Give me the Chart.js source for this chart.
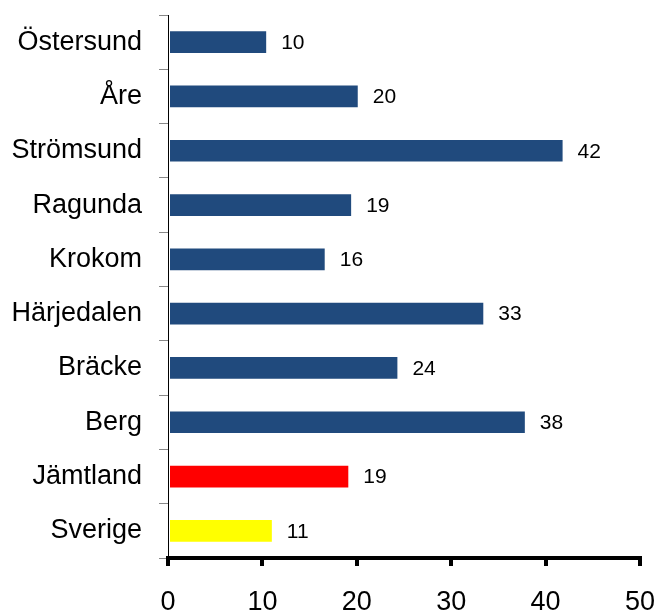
<!DOCTYPE html>
<html>
<head>
<meta charset="utf-8">
<script src="https://cdn.jsdelivr.net/npm/chart.js@4/dist/chart.umd.min.js"></script>
<style>
  html, body { margin: 0; padding: 0; background: #fff; }
  #wrap { width: 659px; height: 610px; }
</style>
</head>
<body>
<div id="wrap"><canvas id="chart" width="659" height="610"></canvas></div>
<script>
// kommuner och värden
const kommuner = ['Östersund', 'Åre', 'Strömsund', 'Ragunda', 'Krokom', 'Härjedalen', 'Bräcke', 'Berg', 'Jämtland', 'Sverige'];
const varden = [10.4, 20.1, 41.8, 19.4, 16.6, 33.4, 24.3, 37.8, 19.1, 11.0];
const etiketter = ['10', '20', '42', '19', '16', '33', '24', '38', '19', '11'];
const farger = ['#204A7D', '#204A7D', '#204A7D', '#204A7D', '#204A7D', '#204A7D', '#204A7D', '#204A7D', '#FF0000', '#FFFF00'];

// skriver värdet till höger om varje stapel
const vardeEtiketter = {
    id: 'vardeEtiketter',
    afterDatasetsDraw(chart) {
        const ctx = chart.ctx;
        const meta = chart.getDatasetMeta(0);
        ctx.save();
        ctx.font = '21px "Liberation Sans", Arial, sans-serif';
        ctx.fillStyle = '#000';
        ctx.textAlign = 'left';
        ctx.textBaseline = 'middle';
        meta.data.forEach((bar, i) => {
            ctx.fillText(etiketter[i], bar.x + 15, bar.y + 1);
        });
        ctx.restore();
    }
};

new Chart(document.getElementById('chart').getContext('2d'), {
    type: 'bar',
    data: {
        labels: kommuner,
        datasets: [{
            data: varden,
            backgroundColor: farger,
            borderWidth: 0,
            barPercentage: 0.4,
            categoryPercentage: 1.0
        }]
    },
    options: {
        indexAxis: 'y',
        responsive: false,
        animation: false,
        layout: { padding: { top: 15, right: 19, left: 0, bottom: 0 } },
        plugins: {
            legend: { display: false },
            tooltip: { enabled: false }
        },
        scales: {
            x: {
                min: 0,
                max: 50,
                afterFit(scale) {
                    scale.height = 52;
                    scale.paddingLeft = 0;
                    scale.paddingRight = 0;
                },
                border: { display: true, color: '#000', width: 4 },
                grid: {
                    drawOnChartArea: false,
                    drawTicks: true,
                    tickLength: 8,
                    color: '#000',
                    lineWidth: 4
                },
                ticks: {
                    stepSize: 10,
                    padding: 20,
                    color: '#000',
                    font: { family: '"Liberation Sans", Arial, sans-serif', size: 27 }
                }
            },
            y: {
                afterFit(scale) {
                    scale.width = 168;
                    scale.paddingTop = 0;
                    scale.paddingBottom = 0;
                },
                border: { display: true, color: '#000', width: 1 },
                grid: {
                    offset: true,
                    drawOnChartArea: false,
                    drawTicks: true,
                    tickLength: 9,
                    color: '#888',
                    lineWidth: 1
                },
                ticks: {
                    padding: 17,
                    color: '#000',
                    font: { family: '"Liberation Sans", Arial, sans-serif', size: 27 }
                }
            }
        }
    },
    plugins: [vardeEtiketter]
});
</script>
</body>
</html>
